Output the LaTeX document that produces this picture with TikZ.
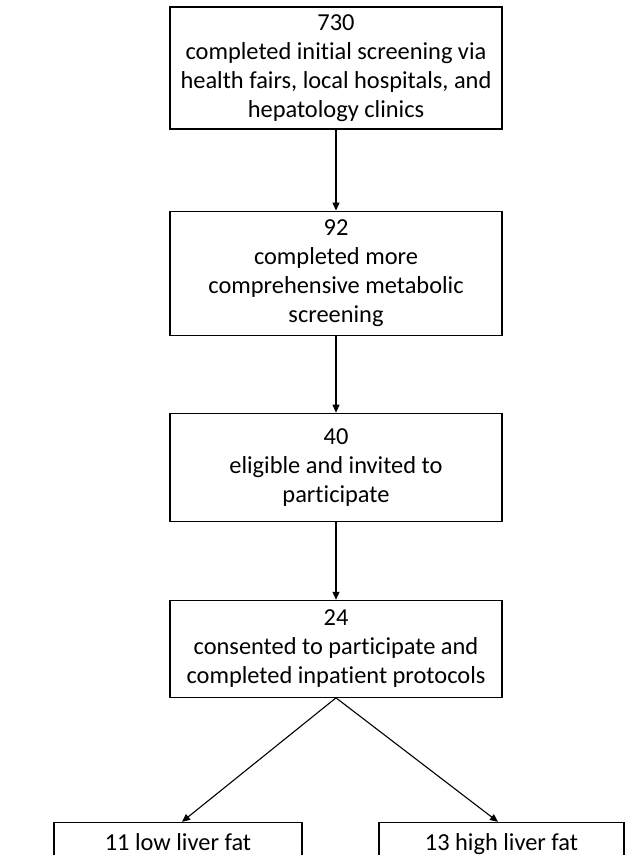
\documentclass[tikz,border=0pt]{standalone}
\usepackage{fontspec}
\setmainfont{Carlito}[Ligatures=NoCommon]
\usetikzlibrary{arrows.meta,positioning}

\begin{document}
\begin{tikzpicture}[>={Triangle[length=8pt,width=7pt]}, x=1pt, y=1pt, line width=1.1pt,
    stage/.style={draw, minimum width=332pt, align=center, inner sep=2pt,
                  font=\fontsize{24.4}{29}\selectfont},
    leaf/.style={stage, minimum height=44pt, text height=18pt, text depth=6pt}]

    \useasboundingbox (0,0) rectangle (626,-855);

    \node[stage, minimum height=122pt]                        (screen)  at (336,-68) {730\\completed initial screening via\\health fairs, local hospitals, and\\hepatology clinics};
    \node[stage, minimum height=124pt, below=81pt of screen]  (metab)   {92\\completed more\\comprehensive metabolic\\screening};
    \node[stage, minimum height=108pt, below=77pt of metab]   (elig)    {40\\eligible and invited to\\participate};
    \node[stage, minimum height=97pt,  below=78pt of elig]    (consent) {24\\consented to participate and\\completed inpatient protocols};
    \node[leaf, minimum width=248pt, below=124pt of consent, xshift=-158pt]  (lowfat)  {11 low liver fat};
    \node[leaf, minimum width=245pt, below=124pt of consent, xshift=165.5pt] (highfat) {13 high liver fat};

    \path[->]   (screen.south)   edge   (metab.north)
                (metab.south)    edge   (elig.north)
                (elig.south)     edge   (consent.north)
                (consent.south)  edge   ([xshift=4pt]lowfat.north)
                                 edge   ([xshift=-3.5pt]highfat.north);

\end{tikzpicture}
\end{document}
